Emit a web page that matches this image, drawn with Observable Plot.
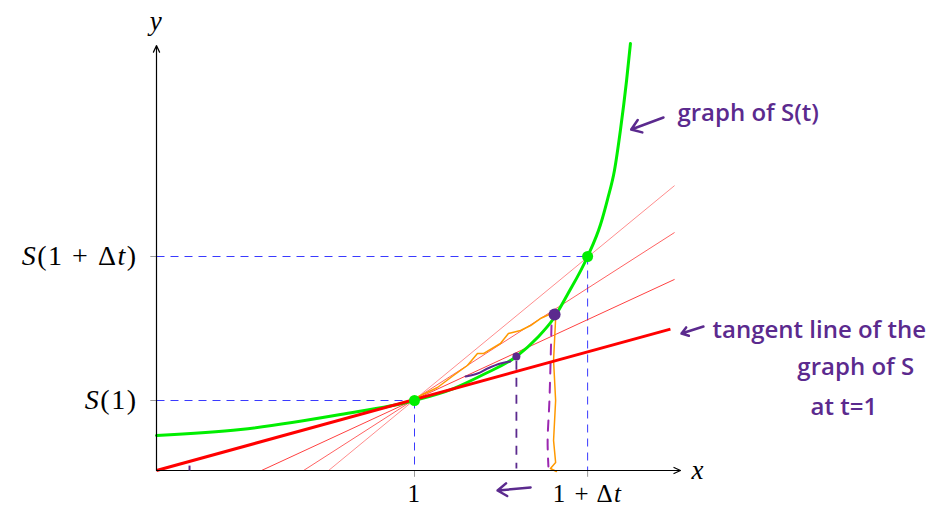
<!DOCTYPE html>
<html><head><meta charset="utf-8">
<script src="https://cdn.jsdelivr.net/npm/d3@7"></script>
<script src="https://cdn.jsdelivr.net/npm/@observablehq/plot@0.6"></script>
<style>body{margin:0;background:#fff;} svg{display:block;}</style>
</head><body><div id="chart"></div>
<script>
// green curve S(t)
const curveX = [0, 0.326, 0.713, 1.0, 1.151, 1.267, 1.395, 1.477, 1.539, 1.593, 1.671, 1.721, 1.748, 1.775, 1.798, 1.822, 1.837];
const curveY = [0.50, 0.586, 0.80, 1.0, 1.171, 1.371, 1.629, 1.90, 2.171, 2.514, 3.057, 3.514, 3.871, 4.286, 4.857, 5.571, 6.10];
// key points
const pointX = [1, 1.671];
const pointY = [1, 3.057];
// tangent line endpoints
const tangentX = [0, 1.992];
const tangentY = [0, 2.02];
// secant lines: x-intercept, right end x, right end y, opacity
const secantX0 = [0.407, 0.570, 0.667];
const secantX1 = [2.008, 2.008, 2.008];
const secantY1 = [2.73, 3.40, 4.07];
const secantAlpha = [0.75, 0.62, 0.45];
// tick labels
const xTickValues = [1, 1.671];
const xTickLabels = ["1", "1 + Δt"];
const yTickValues = [1, 3.057];
const yTickLabels = ["S(1)", "S(1 + Δt)"];
// handwritten notes
const noteTexts = ["graph of S(t)", "tangent line of the", "graph of S", "at t=1"];
const noteX = [2.019, 2.155, 2.484, 2.535];
const noteY = [5.10, 2.0, 1.48, 0.90];
const noteArrowX1 = [1.965, 2.12, 1.45];
const noteArrowY1 = [5.043, 2.057, -0.243];
const noteArrowX2 = [1.840, 2.035, 1.322];
const noteArrowY2 = [4.871, 1.957, -0.286];
// purple marked points on the curve
const markX = [1.395, 1.543];
const markY = [1.629, 2.229];
const markR = [4, 6];
// scribbles
const squiggleX = [1.198, 1.244, 1.283, 1.333, 1.372];
const squiggleY = [1.343, 1.386, 1.457, 1.529, 1.557];
const orangeX = [1.016, 1.089, 1.151, 1.205, 1.244, 1.267, 1.333, 1.364, 1.411, 1.450, 1.488, 1.539, 1.547, 1.539, 1.547, 1.539, 1.547, 1.527, 1.550];
const orangeY = [1.057, 1.186, 1.357, 1.5, 1.671, 1.671, 1.814, 1.957, 2.0, 2.071, 2.171, 2.257, 2.171, 1.571, 1.0, 0.429, 0.114, 0.029, -0.014];
const violetX = [1.531, 1.523, 1.516, 1.519];
const violetY = [2.071, 1.0, 0.429, 0.057];

const purple = "#5b2a8e";
const green = "#00ee00";

const curve = curveX.map((x, i) => ({x, y: curveY[i]}));
const pts = pointX.map((x, i) => ({x, y: pointY[i]}));
const guides = [];
pointX.forEach((x, i) => {
  guides.push({x1: 0, y1: pointY[i], x2: x, y2: pointY[i]});
  guides.push({x1: x, y1: pointY[i], x2: x, y2: 0});
});
const secants = secantX0.map((x0, i) => ({x1: x0, y1: 0, x2: secantX1[i], y2: secantY1[i], a: secantAlpha[i]}));
const xticks = xTickValues.map((v, i) => ({v, label: xTickLabels[i]}));
const yticks = yTickValues.map((v, i) => ({v, label: yTickLabels[i]}));
const notes = noteTexts.map((t, i) => ({t, x: noteX[i], y: noteY[i]}));
const noteArrows = noteArrowX1.map((x1, i) => ({x1, y1: noteArrowY1[i], x2: noteArrowX2[i], y2: noteArrowY2[i]}));
const marks = markX.map((x, i) => ({x, y: markY[i], r: markR[i]}));
const squiggle = squiggleX.map((x, i) => ({x, y: squiggleY[i]}));
const orange = orangeX.map((x, i) => ({x, y: orangeY[i]}));
const violet = violetX.map((x, i) => ({x, y: violetY[i]}));

const serif = "'Liberation Serif', 'Times New Roman', serif";
const hand = "'Open Sans', 'Noto Sans', sans-serif";

const chart = Plot.plot({
  width: 948, height: 507,
  marginLeft: 156, marginRight: 0, marginTop: 0, marginBottom: 37,
  x: {domain: [0, 792 / 258], axis: null},
  y: {domain: [0, 470 / 70], axis: null},
  r: {type: "identity"},
  marks: [
    Plot.link(guides, {x1: "x1", y1: "y1", x2: "x2", y2: "y2", stroke: "#3a3aff", strokeWidth: 1, strokeDasharray: "8,6"}),
    Plot.link(xticks, {x1: "v", x2: "v", y1: 0, y2: -0.09, stroke: "#999", strokeWidth: 1}),
    Plot.link(yticks, {y1: "v", y2: "v", x1: 0, x2: -0.024, stroke: "#999", strokeWidth: 1}),
    Plot.link(secants, {x1: "x1", y1: "y1", x2: "x2", y2: "y2", stroke: "#ff0000", strokeOpacity: "a", strokeWidth: 1}),
    Plot.line(orange, {x: "x", y: "y", stroke: "#ff9900", strokeWidth: 1.5, curve: "linear"}),
    Plot.line(violet, {x: "x", y: "y", stroke: "#9b27b0", strokeWidth: 2, strokeDasharray: "10,9", curve: "catmull-rom"}),
    Plot.link(markX.slice(0, 1), {x1: d => d, x2: d => d, y1: d => markY[0] - 0.06, y2: 0.03, stroke: purple, strokeWidth: 1.8, strokeDasharray: "9,8"}),
    Plot.line(curve, {x: "x", y: "y", stroke: green, strokeWidth: 3, curve: "monotone-x"}),
    Plot.line(squiggle, {x: "x", y: "y", stroke: purple, strokeWidth: 2, curve: "catmull-rom"}),
    Plot.link([0], {x1: tangentX[0], y1: tangentY[0], x2: tangentX[1], y2: tangentY[1], stroke: "#ff0000", strokeWidth: 3}),
    Plot.arrow([0], {x1: 0, y1: 0, x2: 2.031, y2: 0, stroke: "black", strokeWidth: 1.2, headLength: 9, headAngle: 50}),
    Plot.arrow([0], {x1: 0, y1: 0, x2: 0, y2: 6.07, stroke: "black", strokeWidth: 1.2, headLength: 9, headAngle: 50}),
    Plot.dot(pts, {x: "x", y: "y", r: 5.5, fill: green}),
    Plot.dot(marks, {x: "x", y: "y", r: "r", fill: purple}),
    Plot.link([0], {x1: 0.128, x2: 0.128, y1: 0.0, y2: 0.07, stroke: purple, strokeWidth: 2}),
    Plot.text(xticks, {x: "v", y: 0, text: "label", dy: 23, fontSize: 25, fontFamily: serif, fill: "black"}),
    Plot.text(yticks, {x: 0, y: "v", text: "label", dx: -19, textAnchor: "end", fontSize: 28, fontFamily: serif, fill: "black"}),
    Plot.text(["x"], {x: 2.031, y: 0, text: d => d, dx: 11, textAnchor: "start", fontSize: 27, fontFamily: serif, fill: "black"}),
    Plot.text(["y"], {x: 0, y: 6.07, text: d => d, dy: -24, fontSize: 27, fontFamily: serif, fill: "black"}),
    Plot.arrow(noteArrows, {x1: "x1", y1: "y1", x2: "x2", y2: "y2", stroke: purple, strokeWidth: 2.5, headLength: 12, headAngle: 70}),
    Plot.text(notes, {x: "x", y: "y", text: "t", textAnchor: "start", fontSize: 24, fontWeight: 600, fontFamily: hand, fill: purple})
  ]
});

// render math labels with italic letters, like LaTeX
const mathSet = new Set([...xTickLabels, ...yTickLabels, "x", "y"]);
chart.querySelectorAll("text").forEach(t => {
  const s = t.textContent;
  if (!mathSet.has(s)) return;
  while (t.firstChild) t.removeChild(t.firstChild);
  for (const ch of s) {
    const sp = document.createElementNS("http://www.w3.org/2000/svg", "tspan");
    sp.textContent = ch;
    if (/[Stxy]/.test(ch)) sp.setAttribute("font-style", "italic");
    t.appendChild(sp);
  }
  t.setAttribute("letter-spacing", "1.5");
});

document.getElementById("chart").appendChild(chart);
</script>
</body></html>
